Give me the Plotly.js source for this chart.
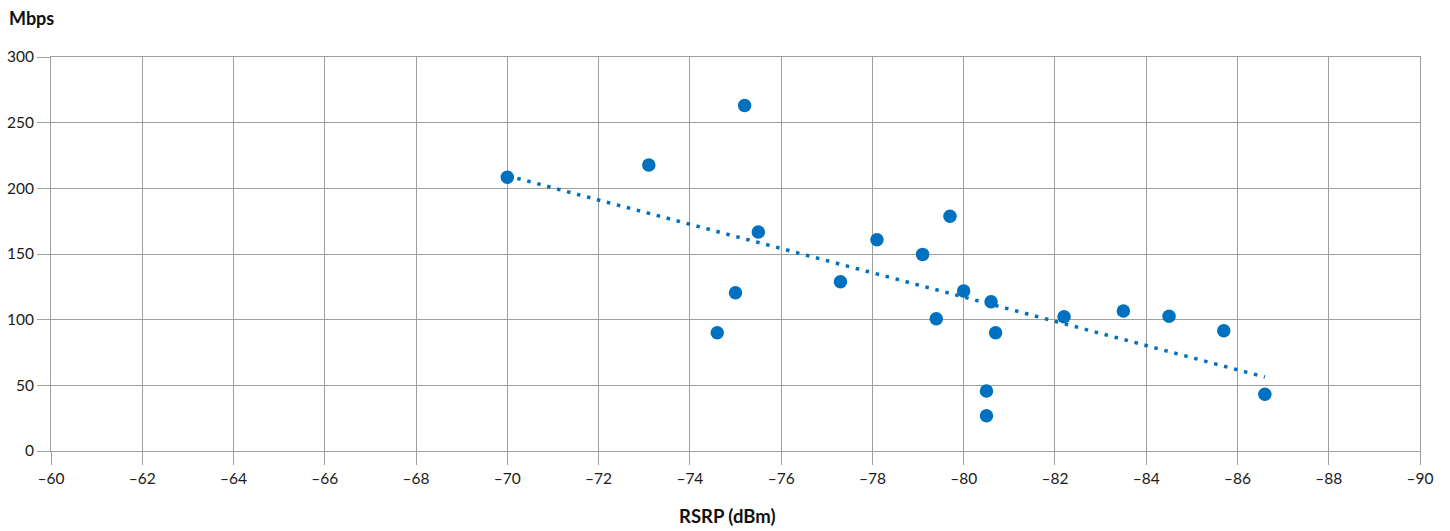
<!DOCTYPE html>
<html>
<head>
<meta charset="utf-8">
<script src="https://cdn.plot.ly/plotly-3.0.1.min.js"></script>
<style>html,body{margin:0;padding:0;background:#fff;}#chart{width:1450px;height:531px;}</style>
</head>
<body>
<div id="chart"></div>
<script>
// RSRP (dBm) vs throughput (Mbps)
const rsrp = [-70.0, -73.1, -75.2, -75.5, -75.0, -74.6, -77.3, -78.1, -79.1, -79.7, -79.4, -80.0, -80.6, -80.7, -80.5, -80.5, -82.2, -83.5, -84.5, -85.7, -86.6];
const mbps = [208.5, 217.8, 263.0, 166.7, 120.5, 90.1, 128.9, 160.9, 149.7, 178.7, 100.7, 121.8, 113.7, 90.1, 45.7, 26.8, 102.3, 106.6, 102.6, 91.6, 43.2];
// trend line endpoints
const trendX = [-70.0, -86.6];
const trendY = [209.6, 56.3];
const xTicks = [-60, -62, -64, -66, -68, -70, -72, -74, -76, -78, -80, -82, -84, -86, -88, -90];
const yTicks = [0, 50, 100, 150, 200, 250, 300];

const blue = '#0070c0';
const grid = '#a0a0a0';
const fontFam = 'Lato, "Open Sans", sans-serif';

const traces = [
  {x: trendX, y: trendY, mode: 'lines', type: 'scatter',
   line: {color: blue, width: 3.5, dash: '3.5px,6.8px'}, hoverinfo: 'skip'},
  {x: rsrp, y: mbps, mode: 'markers', type: 'scatter',
   marker: {color: blue, size: 13.5}}
];

const layout = {
  width: 1450, height: 531,
  margin: {l: 51, r: 30, t: 57, b: 80},
  paper_bgcolor: '#fff', plot_bgcolor: '#fff',
  showlegend: false,
  font: {family: fontFam, size: 15, color: '#1a1a1a'},
  xaxis: {
    range: [-60, -90], tickvals: xTicks, ticktext: xTicks.map(v => '\u2013' + Math.abs(v)),
    showgrid: true, gridcolor: grid, gridwidth: 1,
    ticks: 'outside', ticklen: 13, tickcolor: grid, tickwidth: 1,
    showline: true, linecolor: grid, linewidth: 1, mirror: true,
    zeroline: false, tickfont: {family: fontFam, size: 15.5, color: '#1a1a1a'}
  },
  yaxis: {
    range: [0, 300], tickvals: yTicks,
    showgrid: true, gridcolor: grid, gridwidth: 1,
    ticks: 'outside', ticklen: 13, tickcolor: grid, tickwidth: 1,
    showline: true, linecolor: grid, linewidth: 1, mirror: true,
    zeroline: false, tickfont: {family: fontFam, size: 15.5, color: '#1a1a1a'}
  },
  annotations: [
    {text: '<b>Mbps</b>', xref: 'paper', yref: 'paper', x: -44/1369, y: 1 + 39/394,
     xanchor: 'left', yanchor: 'middle', showarrow: false,
     font: {family: fontFam, size: 18, color: '#111'}},
    {text: '<b>RSRP (dBm)</b>', xref: 'paper', yref: 'paper', x: 0.494, y: -65/394,
     xanchor: 'center', yanchor: 'middle', showarrow: false,
     font: {family: fontFam, size: 18.5, color: '#111'}}
  ]
};

Plotly.newPlot('chart', traces, layout, {displayModeBar: false, staticPlot: true});
</script>
</body>
</html>
